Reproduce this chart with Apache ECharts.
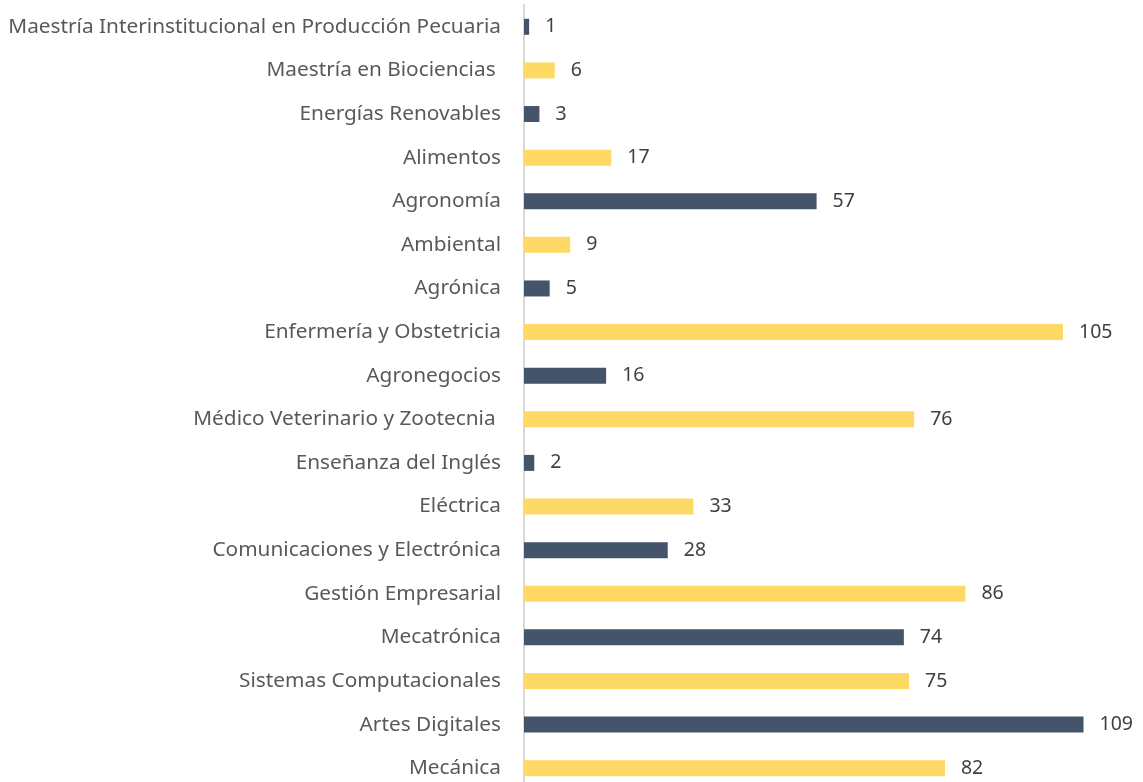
<!DOCTYPE html>
<html>
<head>
<meta charset="utf-8">
<script src="https://cdn.jsdelivr.net/npm/echarts@6/dist/echarts.min.js"></script>
<style>
  html, body { margin: 0; padding: 0; background: #fff; overflow: hidden; }
  #chart { width: 1143px; height: 800px; }
</style>
</head>
<body>
<div id="chart"></div>
<script>
// listed bottom to top, as the category axis draws them
const programs = [
  "Mecánica",
  "Artes Digitales",
  "Sistemas Computacionales",
  "Mecatrónica",
  "Gestión Empresarial",
  "Comunicaciones y Electrónica",
  "Eléctrica",
  "Enseñanza del Inglés",
  "Médico Veterinario y Zootecnia ",
  "Agronegocios",
  "Enfermería y Obstetricia",
  "Agrónica",
  "Ambiental",
  "Agronomía",
  "Alimentos",
  "Energías Renovables",
  "Maestría en Biociencias ",
  "Maestría Interinstitucional en Producción Pecuaria",
];
const students = [82, 109, 75, 74, 86, 28, 33, 2, 76, 16, 105, 5, 9, 57, 17, 3, 6, 1];

const YELLOW = "#FFD966";
const NAVY = "#44546A";

// chart box is a bit taller than the window: the last row is cut off in the original
const chart = echarts.init(document.getElementById("chart"));
chart.setOption({
  backgroundColor: "#ffffff",
  animation: false,
  grid: { left: 524, right: 3, top: 5, height: 785 },
  xAxis: {
    type: "value",
    min: 0,
    max: 120,
    show: false,
  },
  yAxis: {
    type: "category",
    data: programs,
    axisLine: { show: true, lineStyle: { color: "#D9D9D9", width: 2 } },
    axisTick: { show: false },
    axisLabel: {
      color: "#595959",
      fontSize: 20.8,
      fontFamily: "Noto Sans",
      margin: 23,
    },
  },
  series: [
    {
      type: "bar",
      barWidth: 16,
      data: students.map((v, i) => ({
        value: v,
        itemStyle: { color: i % 2 === 0 ? YELLOW : NAVY },
      })),
      label: {
        show: true,
        position: "right",
        distance: 16,
        color: "#404040",
        fontSize: 19.5,
        fontFamily: "Noto Sans",
      },
    },
  ],
});
</script>
</body>
</html>
